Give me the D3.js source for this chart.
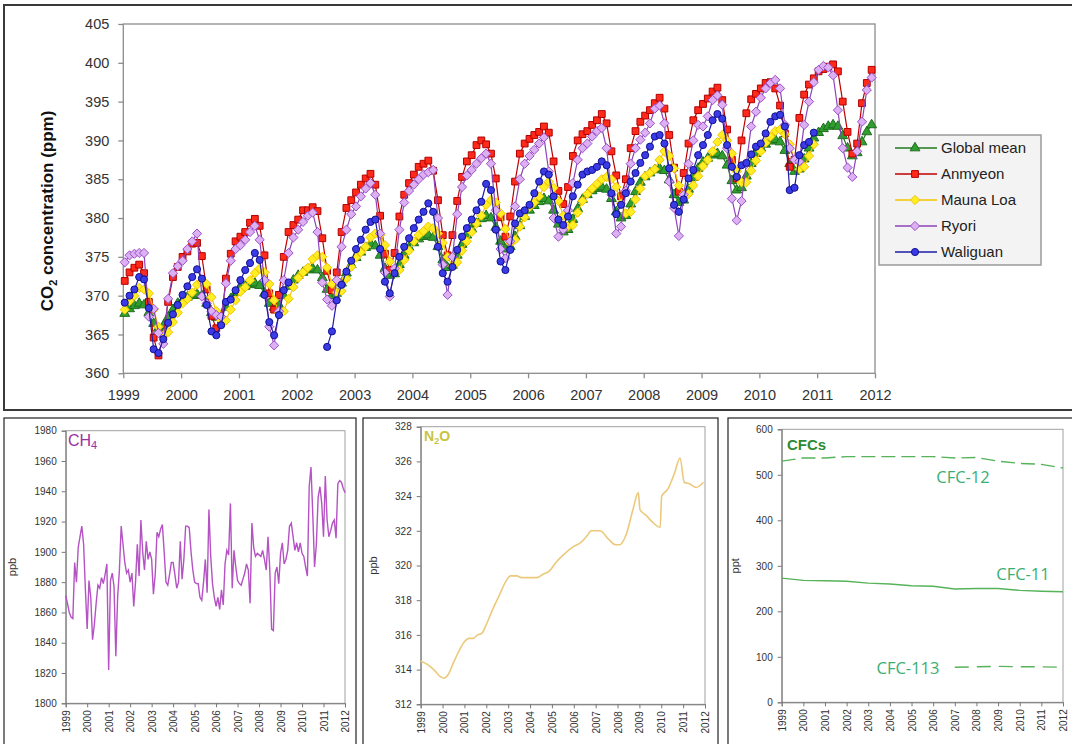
<!DOCTYPE html>
<html>
<head>
<meta charset="utf-8">
<script src="https://cdn.jsdelivr.net/npm/d3@7"></script>
<style>
body{margin:0;background:#fff}
svg{display:block;font-family:"Liberation Sans",Arial,sans-serif}
</style>
</head>
<body>
<svg width="1072" height="744"></svg>
<script>
// ---- data: monthly CO2 (ppm), Jan 1999 .. Dec 2011 ----
const stations = ["Global mean", "Anmyeon", "Mauna Loa", "Ryori", "Waliguan"];
const yearTicks = d3.range(1999, 2013);

const globalMean = [
  367.7,368.3,368.7,369.0,368.8,367.8,366.4,365.8,366.1,367.2,368.2,369.0,
  369.4,369.8,370.0,370.2,370.0,369.0,367.8,367.2,367.4,368.5,369.6,370.4,
  370.9,371.2,371.4,371.6,371.3,370.3,369.0,368.5,368.8,370.0,371.2,372.0,
  372.6,373.0,373.3,373.5,373.3,372.3,370.8,370.0,370.3,371.6,372.9,374.0,
  374.9,375.6,376.2,376.7,376.4,375.2,373.5,372.6,372.8,374.0,375.2,376.2,
  376.8,377.3,377.6,377.8,377.5,376.3,374.6,373.6,373.9,375.2,376.6,377.8,
  378.6,379.3,379.9,380.3,380.0,378.8,377.0,376.0,376.3,377.6,379.0,380.2,
  381.0,381.6,382.1,382.5,382.2,381.0,379.2,378.2,378.5,379.8,381.2,382.4,
  383.0,383.5,383.8,384.0,383.7,382.5,380.8,380.0,380.3,381.8,383.4,384.6,
  385.3,385.8,386.2,386.4,386.1,384.9,383.0,382.0,382.3,383.7,385.2,386.4,
  387.2,387.7,388.1,388.3,388.0,386.8,384.8,383.6,383.9,385.4,387.0,388.3,
  389.0,389.5,389.9,390.1,389.8,388.7,387.0,386.0,386.3,387.6,389.0,390.3,
  391.0,391.5,391.8,392.0,391.8,390.6,389.0,388.0,388.4,389.8,391.1,392.0];

const anmyeon = [
  371.9,373.0,373.6,374.0,372.9,369.2,364.6,362.3,365.0,369.2,372.4,373.7,
  375.0,375.7,376.7,376.8,375.1,370.8,367.4,365.8,366.5,372.2,375.4,377.0,
  377.6,378.2,379.4,379.9,379.0,375.2,370.3,368.2,370.1,375.0,378.2,379.1,
  379.8,381.0,381.0,381.4,380.9,377.4,373.2,370.7,373.0,378.2,381.3,382.3,
  383.3,384.3,385.1,385.7,384.3,380.3,375.4,373.3,375.5,380.2,383.0,384.5,
  385.6,386.6,387.0,387.4,386.1,382.3,377.8,375.2,377.8,382.2,385.3,387.3,
  388.1,389.4,390.0,389.5,388.3,385.1,380.1,377.6,380.2,384.7,388.3,389.6,
  390.2,390.7,391.1,391.8,391.0,387.3,383.5,381.8,384.0,388.0,390.0,390.8,
  391.2,392.0,392.6,393.4,392.2,388.6,385.5,382.8,385.0,389.0,391.2,392.4,
  393.2,393.9,394.8,395.5,394.1,390.7,386.5,383.4,385.8,389.6,392.6,393.9,
  394.7,395.4,396.3,396.8,395.2,391.4,387.5,385.1,390.0,393.5,395.3,396.0,
  396.7,397.4,397.5,396.7,394.5,390.9,386.6,387.5,392.9,395.9,397.2,398.0,
  398.9,399.2,399.5,399.8,398.9,395.0,391.1,388.3,389.6,394.8,397.4,399.1];

const maunaLoa = [
  368.2,369.3,370.0,371.0,370.8,370.3,368.2,366.0,364.9,365.3,366.6,367.8,
  369.0,369.6,370.4,371.4,371.8,371.5,369.8,368.0,366.8,366.8,368.2,369.4,
  370.5,371.1,372.0,372.9,373.5,373.0,371.5,369.4,367.9,368.0,369.6,371.1,
  372.3,373.0,373.6,374.7,375.2,375.0,373.6,371.5,370.4,370.6,372.2,373.7,
  374.9,375.6,376.3,377.5,378.0,377.8,376.5,374.4,373.0,373.3,374.6,375.8,
  377.0,377.8,378.3,378.9,378.7,378.0,376.8,375.0,373.8,374.3,375.8,377.0,
  378.2,379.3,380.3,381.7,382.3,382.0,380.6,378.6,376.8,377.2,378.9,380.1,
  381.4,382.0,382.8,384.0,384.7,383.9,382.2,380.3,378.9,379.1,380.7,382.2,
  383.1,383.8,384.4,385.0,385.3,385.0,384.0,381.9,380.6,380.8,382.4,383.8,
  385.4,385.8,386.3,387.5,388.6,388.0,386.4,384.2,383.1,383.1,384.2,385.4,
  386.7,387.5,388.6,389.8,390.7,390.0,388.3,386.0,384.6,384.6,386.1,387.4,
  388.6,389.7,390.5,391.2,391.4,390.8,389.5,387.5,386.3,386.6,388.0,389.5,
  null,null,null,null,null,null,null,null,null,null,null,null];

const ryori = [
  374.3,375.2,375.4,375.5,375.5,367.3,368.3,365.2,363.8,369.6,372.9,373.8,
  374.5,376.0,377.0,378.0,369.9,369.0,368.0,367.5,367.3,371.6,374.5,376.0,
  376.5,377.2,378.2,379.0,377.2,372.0,366.0,363.6,368.0,372.0,375.5,377.5,
  378.5,379.5,380.3,380.7,378.2,371.7,369.5,368.7,372.0,376.3,378.5,380.5,
  381.5,382.8,383.8,384.5,383.0,378.0,373.0,369.9,373.5,378.5,382.0,383.5,
  384.3,385.0,385.6,385.9,386.2,380.0,374.0,370.1,375.0,380.5,384.0,385.5,
  386.2,387.0,387.7,388.3,387.0,381.0,376.0,374.8,377.0,381.5,385.0,387.0,
  388.0,388.8,389.6,390.4,386.0,380.0,377.6,378.5,381.0,384.5,387.5,389.0,
  389.6,390.5,391.2,391.6,389.0,383.0,378.0,378.9,383.5,387.0,389.0,390.1,
  391.0,392.2,394.1,394.5,392.2,384.7,381.3,377.7,383.0,387.0,390.0,392.0,
  391.8,393.1,395.2,395.8,394.6,389.0,382.5,379.7,382.2,387.0,391.8,393.7,
  395.5,396.7,397.4,397.8,396.7,392.0,389.0,387.5,387.3,392.0,395.0,397.5,
  399.1,399.6,399.4,398.4,393.9,389.0,386.5,385.3,388.6,392.4,396.5,398.1];

const waliguan = [
  369.1,370.0,370.8,372.4,372.1,368.4,363.1,362.6,364.4,366.5,367.6,368.8,
  370.1,371.2,372.4,373.4,372.2,368.8,365.4,364.9,366.2,369.2,369.5,370.7,
  372.0,373.3,374.2,375.5,374.6,370.1,366.6,364.9,367.5,370.7,371.7,null,
  null,null,null,null,null,null,363.4,365.4,369.4,371.4,373.1,374.5,
  376.0,377.2,378.5,379.5,379.8,376.0,371.8,370.3,372.9,375.0,376.3,377.4,
  378.7,379.8,380.8,381.9,380.8,376.3,372.9,371.8,373.7,375.9,377.6,378.7,
  379.8,381.0,382.1,384.4,383.6,378.5,374.4,373.3,375.9,379.3,380.6,381.0,
  381.7,383.2,384.7,386.0,385.6,382.8,379.8,379.1,380.2,382.8,384.3,385.6,
  386.0,386.2,386.6,387.3,386.8,383.2,380.5,381.7,383.2,384.7,385.8,387.1,
  388.1,389.2,390.5,390.7,389.6,386.4,381.7,380.8,382.4,385.1,386.2,388.1,
  389.4,390.7,392.6,393.4,392.8,389.4,386.6,385.3,386.8,387.1,388.2,389.2,
  389.6,390.9,392.4,393.1,393.3,391.8,383.6,383.9,388.1,389.4,389.8,391.0,
  null,null,null,null,null,null,null,null,null,null,null,null];

// ---- data: CH4 monthly (ppb), Jan 1999 .. Jan 2012 ----
const ch4 = [
  1871,1866,1860,1857,1856,1893,1880,1903,1910,1917,1905,1875,
  1849,1881,1870,1842,1852,1866,1878,1876,1883,1879,1885,1892,
  1822,1881,1886,1877,1831,1870,1888,1917,1905,1893,1886,1888,
  1880,1886,1864,1880,1905,1884,1921,1900,1888,1907,1895,1900,
  1895,1872,1885,1913,1910,1915,1918,1900,1880,1878,1885,1893,
  1893,1885,1876,1880,1907,1882,1895,1917,1917,1916,1900,1888,
  1880,1879,1879,1870,1868,1880,1895,1873,1928,1897,1879,1870,
  1864,1870,1862,1875,1865,1892,1901,1898,1932,1876,1901,1890,
  1881,1879,1878,1882,1886,1892,1888,1866,1919,1903,1897,1899,
  1898,1897,1901,1895,1888,1910,1888,1849,1848,1886,1890,1879,
  1899,1906,1892,1895,1901,1917,1919,1910,1901,1906,1900,1906,
  1899,1897,1890,1884,1943,1956,1925,1890,1905,1936,1943,1932,
  1910,1950,1921,1910,1914,1919,1921,1909,1945,1947,1946,1942,
  1939];

// ---- data: N2O (ppb) ----
const n2oTime = [1999.0,1999.3,1999.6,1999.9,2000.05,2000.25,2000.5,2000.8,2001.0,2001.2,2001.4,2001.6,2001.8,
  2002.0,2002.3,2002.6,2002.9,2003.1,2003.4,2003.6,2004.0,2004.3,2004.6,2004.9,2005.2,2005.6,2006.0,2006.3,
  2006.6,2006.8,2007.2,2007.6,2007.9,2008.1,2008.4,2008.7,2008.95,2009.03,2009.3,2009.6,2009.95,2010.02,
  2010.3,2010.6,2010.86,2011.05,2011.3,2011.6,2011.93];
const n2oValue = [314.5,314.3,314.0,313.6,313.5,313.7,314.4,315.2,315.6,315.8,315.8,316.0,316.1,
  316.6,317.5,318.3,319.1,319.4,319.4,319.3,319.3,319.3,319.5,319.7,320.2,320.7,321.1,321.3,
  321.7,322.0,322.0,321.5,321.2,321.2,321.8,323.2,324.2,323.2,322.9,322.5,322.2,324.0,
  324.4,325.3,326.2,324.8,324.7,324.5,324.8];

// ---- data: CFCs (ppt) ----
const cfcYears = d3.range(1999, 2013);
const cfc12 = [530,537,537,540,540,540,540,540,537,538,530,525,523,515];
const cfc11 = [273,268,267,266,262,260,256,255,249,250,250,246,244,243];
const cfc113Years = [2007,2008,2009,2010,2011,2012];
const cfc113 = [77,78,79,78,78,77];

const svg = d3.select("svg");
svg.append("rect").attr("width", 1072).attr("height", 744).attr("fill", "#fff");

// ================= top chart =================
svg.append("rect").attr("x", 4).attr("y", 5).attr("width", 1072).attr("height", 405)
  .attr("fill", "none").attr("stroke", "#3a3a3a").attr("stroke-width", 2);

const x = d3.scaleLinear().domain([1999, 2012]).range([123.3, 875]);
const y = d3.scaleLinear().domain([360, 405]).range([373.3, 24]);
const main = svg.append("g");

main.append("rect").attr("x", x(1999)).attr("y", y(405))
  .attr("width", x(2012) - x(1999)).attr("height", y(360) - y(405))
  .attr("fill", "none").attr("stroke", "#8c8c8c").attr("stroke-width", 1.3);

const yAx = main.append("g").attr("transform", "translate(" + x(1999) + ",0)")
  .call(d3.axisLeft(y).tickValues(d3.range(360, 406, 5)).tickSize(5).tickPadding(9));
const xAx = main.append("g").attr("transform", "translate(0," + y(360) + ")")
  .call(d3.axisBottom(x).tickValues(yearTicks).tickFormat(d3.format("d")).tickSize(5).tickPadding(11));
[yAx, xAx].forEach(a => {
  a.select(".domain").remove();
  a.selectAll("line").attr("stroke", "#8c8c8c").attr("stroke-width", 1.3);
  a.selectAll("text").attr("fill", "#333").style("font-size", "14.5px");
});

const ttl = main.append("text").attr("transform", "translate(53,211) rotate(-90)")
  .attr("text-anchor", "middle").style("font-size", "17px").style("font-weight", "bold").attr("fill", "#111");
ttl.append("tspan").text("CO");
ttl.append("tspan").text("2").style("font-size", "11px").attr("dy", 4);
ttl.append("tspan").text(" concentration (ppm)").attr("dy", -4);

const diamond = "M0,-4.6L4.6,0L0,4.6L-4.6,0Z";
const styles = {
  "Global mean": {data: globalMean, line: "#1f7a1f", fill: "#2f9e2f", stroke: "#1d6e1d", shape: d3.symbol(d3.symbolTriangle, 42)()},
  "Anmyeon":     {data: anmyeon, line: "#c00000", fill: "#ff2a1a", stroke: "#b00000", shape: d3.symbol(d3.symbolSquare, 46)()},
  "Mauna Loa":   {data: maunaLoa, line: "#f5c400", fill: "#ffee22", stroke: "#f2c200", shape: diamond},
  "Ryori":       {data: ryori, line: "#8e44b8", fill: "#dcb0f2", stroke: "#9a50c8", shape: diamond},
  "Waliguan":    {data: waliguan, line: "#1c1ca8", fill: "#3a3ae6", stroke: "#10108c", shape: d3.symbol(d3.symbolCircle, 40)()}
};

const line = d3.line().defined(d => d.v != null).x(d => x(d.t)).y(d => y(d.v));
stations.forEach(name => {
  const s = styles[name];
  const pts = s.data.map((v, k) => ({t: 1999 + (k + 0.3) / 12, v: v}));
  const g = main.append("g");
  g.append("path").datum(pts).attr("d", line).attr("fill", "none")
    .attr("stroke", s.line).attr("stroke-width", 1.2);
  g.selectAll("path.m").data(pts.filter(d => d.v != null)).enter().append("path")
    .attr("class", "m").attr("d", s.shape)
    .attr("transform", d => "translate(" + x(d.t) + "," + y(d.v) + ")")
    .attr("fill", s.fill).attr("stroke", s.stroke).attr("stroke-width", 1);
});

// legend
const lg = main.append("g").attr("transform", "translate(879,135)");
lg.append("rect").attr("width", 162).attr("height", 130).attr("fill", "#f3f3f3")
  .attr("stroke", "#9a9a9a").attr("stroke-width", 1.5);
stations.forEach((name, i) => {
  const s = styles[name], cy = 13 + i * 26;
  lg.append("line").attr("x1", 16).attr("x2", 58).attr("y1", cy).attr("y2", cy)
    .attr("stroke", s.line).attr("stroke-width", 1.3);
  lg.append("path").attr("d", s.shape).attr("transform", "translate(36," + cy + ")")
    .attr("fill", s.fill).attr("stroke", s.stroke);
  lg.append("text").attr("x", 62).attr("y", cy + 5).text(name)
    .style("font-size", "15px").attr("fill", "#222");
});

// ================= bottom panels =================
function panel(o) {
  svg.append("rect").attr("x", o.bx).attr("y", 418).attr("width", o.bw).attr("height", 340)
    .attr("fill", "none").attr("stroke", "#222").attr("stroke-width", 1.2);
  const px = d3.scaleLinear().domain([1999, 2012]).range([o.x0, o.x1]);
  const py = d3.scaleLinear().domain(o.dom).range([o.y1, o.y0]);
  const g = svg.append("g");
  g.append("rect").attr("x", o.x0).attr("y", o.y0).attr("width", o.x1 - o.x0).attr("height", o.y1 - o.y0)
    .attr("fill", "none").attr("stroke", "#a0a0a0");
  const ya = g.append("g").attr("transform", "translate(" + o.x0 + ",0)")
    .call(d3.axisLeft(py).tickValues(o.ticks).tickFormat(d3.format("d")).tickSize(4).tickPadding(5));
  const xa = g.append("g").attr("transform", "translate(0," + o.y1 + ")")
    .call(d3.axisBottom(px).tickValues(yearTicks).tickFormat(d3.format("d")).tickSize(4));
  [ya, xa].forEach(a => {
    a.select(".domain").attr("stroke", "#777");
    a.selectAll("line").attr("stroke", "#777");
    a.selectAll("text").attr("fill", "#333").style("font-size", "10px")
      .style("font-family", "'Liberation Sans Narrow','Liberation Sans',Arial,sans-serif");
  });
  xa.selectAll("text").attr("transform", "rotate(-90)").attr("text-anchor", "end")
    .attr("x", -7).attr("y", 0).attr("dy", "0.35em");
  g.append("text").attr("transform", "translate(" + o.lx + "," + ((o.y0 + o.y1) / 2) + ") rotate(-90)")
    .attr("text-anchor", "middle").style("font-size", "11px").attr("fill", "#333").text(o.unit);
  return {px, py, g};
}

// CH4
const p1 = panel({bx: 4, bw: 352, x0: 65.7, x1: 345, y0: 430.7, y1: 703.3,
  dom: [1800, 1980], ticks: d3.range(1800, 1981, 20), unit: "ppb", lx: 16});
p1.g.append("path").datum(ch4).attr("fill", "none").attr("stroke", "#b552c4").attr("stroke-width", 1.4)
  .attr("d", d3.line().x((d, k) => p1.px(1999 + k / 12)).y(d => p1.py(d)));
const t1 = p1.g.append("text").attr("x", 68).attr("y", 446).attr("fill", "#9c2fa4").style("font-size", "16px");
t1.append("tspan").text("CH");
t1.append("tspan").text("4").style("font-size", "11px").attr("dy", 3);

// N2O
const p2 = panel({bx: 363, bw: 355, x0: 420.7, x1: 705, y0: 426.7, y1: 704.3,
  dom: [312, 328], ticks: d3.range(312, 329, 2), unit: "ppb", lx: 377});
p2.g.append("path").datum(n2oTime.map((t, i) => [t, n2oValue[i]])).attr("fill", "none")
  .attr("stroke", "#ecc97a").attr("stroke-width", 1.6)
  .attr("d", d3.line().curve(d3.curveMonotoneX).x(d => p2.px(d[0])).y(d => p2.py(d[1])));
const t2 = p2.g.append("text").attr("x", 424).attr("y", 441).attr("fill", "#c9c43a")
  .style("font-size", "14px").style("font-weight", "bold");
t2.append("tspan").text("N");
t2.append("tspan").text("2").style("font-size", "9px").attr("dy", 3);
t2.append("tspan").text("O").attr("dy", -3);

// CFCs
const p3 = panel({bx: 728, bw: 350, x0: 781.7, x1: 1063, y0: 429.3, y1: 702.3,
  dom: [0, 600], ticks: d3.range(0, 601, 100), unit: "ppt", lx: 739});
const cl = d3.line().x(d => p3.px(d[0])).y(d => p3.py(d[1]));
p3.g.append("path").datum(cfcYears.map((t, i) => [t, cfc12[i]])).attr("d", cl).attr("fill", "none")
  .attr("stroke", "#56b35a").attr("stroke-width", 1.4).attr("stroke-dasharray", "14,6");
p3.g.append("path").datum(cfcYears.map((t, i) => [t, cfc11[i]])).attr("d", cl).attr("fill", "none")
  .attr("stroke", "#56b35a").attr("stroke-width", 1.4);
p3.g.append("path").datum(cfc113Years.map((t, i) => [t, cfc113[i]])).attr("d", cl).attr("fill", "none")
  .attr("stroke", "#56b35a").attr("stroke-width", 1.4).attr("stroke-dasharray", "14,8");
p3.g.append("text").attr("x", 787).attr("y", 450).text("CFCs").attr("fill", "#2e8a35")
  .style("font-size", "15px").style("font-weight", "bold");
[["CFC-12", 963, 483], ["CFC-11", 1023, 580], ["CFC-113", 908, 674]].forEach(l => {
  p3.g.append("text").attr("x", l[1]).attr("y", l[2]).attr("text-anchor", "middle").text(l[0])
    .attr("fill", "#3aae72").style("font-size", "16.5px").style("font-family", "'Open Sans','Noto Sans',sans-serif");
});
</script>
</body>
</html>
